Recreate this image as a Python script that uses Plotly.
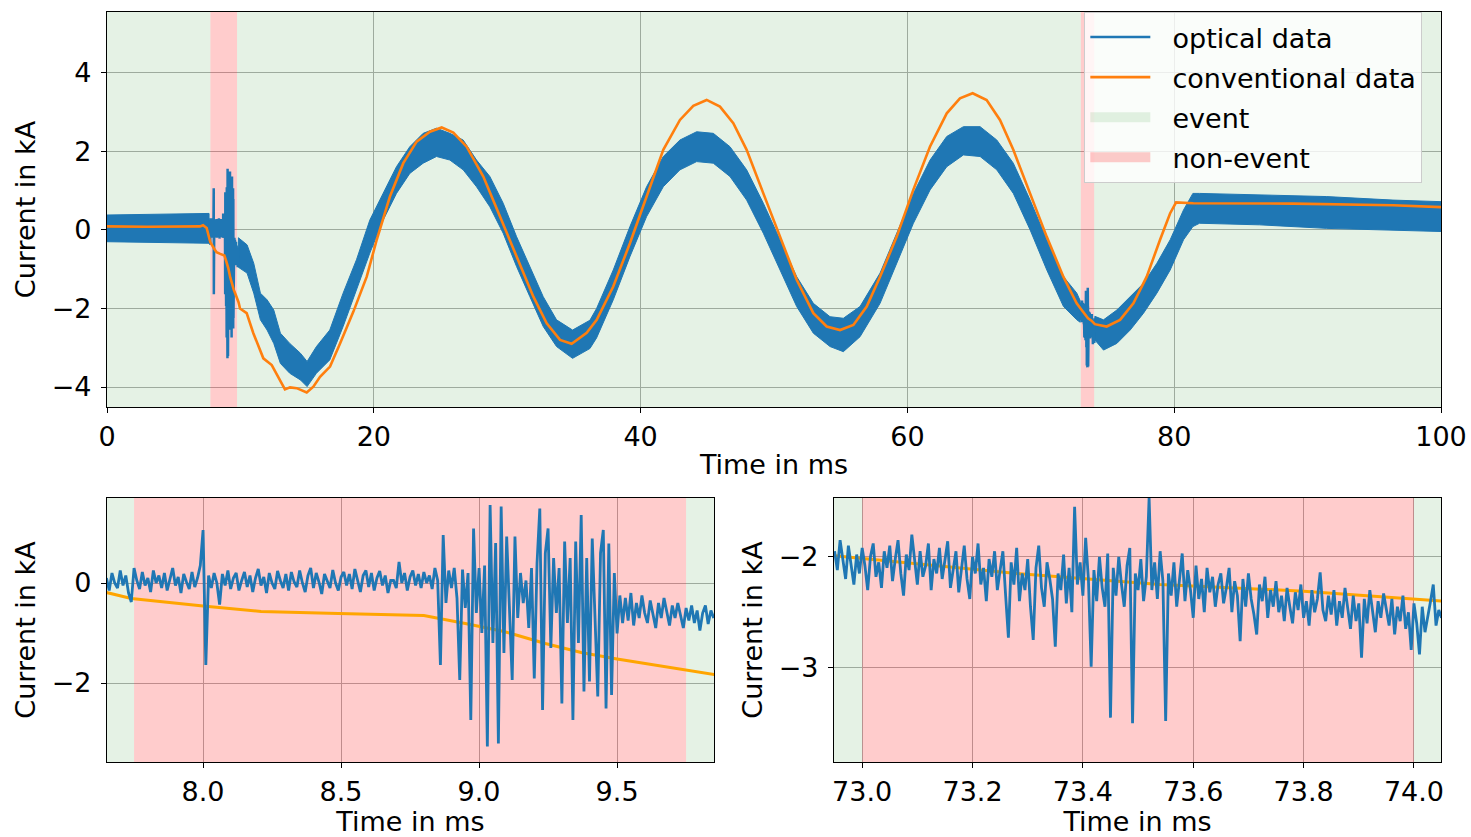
import numpy as np
import plotly.graph_objects as go

# ---------------- data ----------------
# conventional (reference) measurement, read from the chart
conv_t = [0, 3, 6.97, 7.2, 7.47, 7.65, 7.74, 8.0, 8.21, 8.49, 8.8, 8.95, 9.09, 9.24, 9.37, 9.5,
          9.65, 9.76, 9.86, 9.97, 10.47, 10.97, 11.72, 12.35, 12.97, 13.34, 13.72, 14.22, 14.97,
          15.47, 15.97, 16.72, 17.47, 18.47, 19.47, 20.22, 21.21, 22.21, 23.21, 24.21, 25.09,
          25.96, 26.96, 28.21, 29.46, 30.71, 31.96, 32.96, 33.96, 34.83, 35.96, 36.71, 37.95,
          39.2, 40.46, 41.7, 42.95, 43.95, 44.95, 45.95, 46.95, 47.95, 49.2, 50.45, 51.7, 52.95,
          53.95, 54.95, 55.95, 56.95, 57.95, 59.2, 60.44, 61.69, 62.95, 63.94, 64.89, 65.94,
          66.94, 67.94, 69.19, 70.44, 71.69, 72.69, 72.95, 73.28, 73.43, 73.54, 73.8, 74.05,
          74.94, 75.94, 76.94, 77.94, 78.94, 79.69, 80.14, 81.43, 88.9, 96.4, 100]
conv_v = [0.09, 0.08, 0.09, 0.12, 0.05, -0.19, -0.31, -0.46, -0.57, -0.61, -0.65, -0.81, -0.97,
          -1.21, -1.39, -1.52, -1.65, -1.74, -1.84, -2.0, -2.12, -2.63, -3.27, -3.44, -3.82, -4.06,
          -4.01, -4.03, -4.14, -3.99, -3.74, -3.48, -2.89, -2.08, -1.19, -0.25, 0.85, 1.70, 2.25,
          2.50, 2.61, 2.48, 2.12, 1.36, 0.34, -0.68, -1.70, -2.38, -2.80, -2.90, -2.62, -2.29,
          -1.44, -0.34, 0.85, 2.04, 2.80, 3.16, 3.31, 3.14, 2.72, 2.04, 0.93, -0.17, -1.27, -2.12,
          -2.46, -2.55, -2.42, -1.95, -1.19, -0.17, 1.02, 2.12, 2.97, 3.35, 3.48, 3.31, 2.80, 2.04,
          0.93, -0.17, -1.19, -1.87, -1.99, -2.15, -2.21, -2.25, -2.31, -2.40, -2.46, -2.29, -1.87,
          -1.19, -0.25, 0.42, 0.70, 0.68, 0.67, 0.63, 0.58]

# optical data, overview: upper / lower envelope of the noisy trace (outside the zoom windows)
band_a_t = [0.0, 3.5, 7.65]
band_a_hi = [0.38, 0.40, 0.42]
band_a_lo = [-0.30, -0.32, -0.34]

band_b_t = [9.85, 10.5, 11.0, 11.5, 12.0, 12.5, 13.0, 13.7, 14.5, 15.0, 15.7, 16.7, 17.7, 18.7,
            19.7, 20.7, 21.7, 22.7, 23.7, 24.7, 25.7, 26.7, 27.7, 28.7, 29.7, 30.7, 31.7, 32.7,
            33.7, 34.9, 36.2, 36.7, 37.95, 39.2, 40.45, 41.7, 42.95, 44.2, 45.45, 46.7, 47.95,
            49.2, 50.45, 51.7, 52.95, 54.2, 55.2, 56.45, 57.95, 59.2, 60.45, 61.7, 62.95, 64.2,
            65.45, 66.7, 67.94, 69.2, 70.45, 71.7, 72.7, 72.95]
band_b_hi = [-0.20, -0.38, -0.85, -1.61, -1.78, -2.04, -2.63, -2.89, -3.14, -3.35, -2.97, -2.55,
             -1.61, -0.76, 0.25, 0.93, 1.61, 2.12, 2.46, 2.59, 2.46, 2.29, 1.78, 1.36, 0.68, -0.17,
             -0.93, -1.70, -2.29, -2.55, -2.30, -2.00, -1.02, 0.085, 1.10, 1.87, 2.29, 2.50, 2.46,
             2.12, 1.53, 0.68, -0.25, -1.19, -1.87, -2.21, -2.25, -1.95, -1.10, -0.085, 0.93, 1.78,
             2.38, 2.63, 2.63, 2.29, 1.70, 0.76, -0.25, -1.19, -1.61, -1.80]
band_b_lo = [-0.95, -1.10, -1.61, -2.29, -2.55, -2.89, -3.40, -3.65, -3.82, -3.99, -3.65, -3.31,
             -2.46, -1.53, -0.59, 0.25, 0.93, 1.44, 1.70, 1.87, 1.78, 1.53, 1.10, 0.59, -0.085,
             -0.93, -1.70, -2.46, -2.97, -3.27, -3.02, -2.75, -1.78, -0.68, 0.34, 1.10, 1.53, 1.74,
             1.70, 1.36, 0.76, -0.085, -1.02, -1.95, -2.63, -2.97, -3.10, -2.72, -1.87, -0.85, 0.17,
             1.02, 1.61, 1.91, 1.87, 1.53, 0.93, 0.0, -1.02, -1.95, -2.29, -2.35]

band_c_t = [74.05, 74.7, 75.7, 76.7, 77.7, 78.7, 79.7, 80.7, 81.4, 81.9, 86.4, 91.4, 96.4, 100.0]
band_c_hi = [-2.20, -2.29, -2.04, -1.70, -1.36, -0.85, -0.25, 0.51, 0.93, 0.93, 0.89, 0.85, 0.76, 0.72]
band_c_lo = [-2.80, -3.06, -2.89, -2.55, -2.12, -1.61, -1.02, -0.25, 0.085, 0.17, 0.13, 0.04, 0.0, -0.04]

# optical data, detail window 1 (7.65 ... 9.85 ms, every 0.01 ms)
det1_start, det1_step = 7.65, 0.01
det1_v = [
    0.10, -0.15, 0.20, 0.00, -0.10, 0.25, -0.05, 0.15, -0.20, -0.38,
    0.30, 0.05, -0.12, 0.22, -0.05, 0.10, -0.18, 0.25, 0.00, 0.15,
    -0.10, 0.20, -0.15, 0.05, 0.30, -0.05, 0.12, -0.20, 0.18, 0.02,
    -0.12, 0.22, -0.08, 0.10, 0.35, 1.06, -1.64, 0.15, -0.10, 0.20,
    0.00, -0.43, 0.18, -0.05, 0.25, -0.12, 0.10, 0.20, -0.15, 0.05,
    0.22, -0.08, 0.15, -0.18, 0.10, 0.28, -0.05, 0.12, -0.20, 0.20,
    0.00, -0.12, 0.24, 0.05, -0.10, 0.18, -0.15, 0.22, 0.02, -0.08,
    0.25, 0.00, -0.18, 0.15, 0.30, -0.10, 0.20, 0.02, -0.22, 0.18,
    0.05, -0.10, 0.26, 0.00, -0.15, 0.12, 0.22, -0.05, 0.18, -0.12,
    0.28, 0.02, -0.18, 0.15, 0.25, -0.08, 0.20, -0.15, 0.10, 0.24,
    -0.05, 0.15, -0.20, 0.05, 0.05, -0.10, 0.42, 0.00, 0.20, -0.15,
    0.12, 0.25, -0.05, 0.18, -0.10, 0.22, 0.00, 0.15, -0.12, 0.30,
    0.05, -1.64, 0.96, -0.40, 0.25, -0.10, 0.30, -0.30, -1.94, 0.27,
    -0.50, 0.20, -2.74, 1.09, -0.60, 0.30, -1.00, 0.35, -3.27, 1.56,
    -1.20, 0.80, -3.21, 1.53, -1.40, 0.93, -0.50, -1.94, 0.93, -0.70,
    0.20, -0.40, 0.05, -0.90, 0.30, -1.91, 0.40, 1.49, -2.54, 0.60,
    1.09, -1.30, 0.50, -0.60, 0.30, -2.41, 0.83, -0.80, 0.50, -2.74,
    0.83, -1.20, 1.36, -2.17, 0.50, -1.97, 0.89, -0.90, -2.27, 0.60,
    1.06, -2.51, 0.79, -2.24, 0.20, -1.01, -0.25, -0.80, -0.30, -0.75,
    -0.20, -0.85, -0.40, -0.70, -0.25, -0.60, -0.80, -0.35, -0.65, -0.90,
    -0.40, -0.70, -0.30, -0.60, -0.85, -0.45, -0.70, -0.40, -0.62, -0.90,
    -0.50, -0.75, -0.45, -0.80, -0.55, -0.95, -0.60, -0.45, -0.82, -0.55,
    -0.70]

# optical data, detail window 2 (72.95 ... 74.05 ms, every 0.005 ms)
det2_start, det2_step = 72.95, 0.005
det2_v = [
    -1.95, -2.12, -1.85, -2.05, -2.20, -1.90, -2.10, -2.25, -1.98, -2.15, -1.92, -2.08, -2.30, -2.00, -1.88, -2.18, -2.05, -2.28, -1.95, -2.10,
    -1.90, -2.22, -2.02, -1.85, -2.15, -2.35, -1.98, -2.12, -1.80, -2.05, -2.25, -1.95, -2.18, -2.08, -1.88, -2.30, -2.02, -2.15, -1.92, -2.20,
    -2.05, -1.86, -2.28, -2.10, -1.95, -2.32, -2.08, -1.90, -2.20, -2.38, -2.00, -2.15, -1.88, -2.25, -2.10, -2.40, -2.02, -2.18, -1.95, -2.30,
    -2.12, -1.95, -2.35, -2.73, -2.05, -2.25, -1.92, -2.40, -2.15, -2.30, -2.02, -2.45, -2.75, -2.10, -1.90, -2.28, -2.45, -2.05, -2.20, -2.38,
    -2.81, -2.15, -2.30, -1.98, -2.42, -2.10, -2.50, -1.55, -2.25, -2.05, -2.35, -1.83, -2.20, -2.99, -2.12, -2.40, -2.00, -2.28, -2.45, -1.97,
    -3.45, -2.10, -2.35, -2.00, -2.25, -2.45, -2.08, -1.92, -3.50, -2.15, -2.30, -2.02, -2.40, -2.18, -1.47, -2.30, -2.05, -2.38, -1.95, -2.22,
    -3.48, -2.15, -2.35, -2.05, -2.45, -2.20, -1.97, -2.40, -2.12, -2.30, -2.55, -2.08, -2.38, -2.20, -2.50, -2.10, -2.32, -2.18, -2.45, -2.25,
    -2.15, -2.42, -2.28, -2.10, -2.50, -2.22, -2.35, -2.76, -2.20, -2.45, -2.15, -2.38, -2.52, -2.70, -2.25, -2.40, -2.18, -2.55, -2.30, -2.45,
    -2.22, -2.50, -2.35, -2.58, -2.28, -2.45, -2.60, -2.32, -2.48, -2.25, -2.55, -2.40, -2.62, -2.30, -2.50, -2.38, -2.14, -2.48, -2.58, -2.35,
    -2.52, -2.30, -2.62, -2.40, -2.55, -2.28, -2.48, -2.65, -2.35, -2.58, -2.42, -2.91, -2.38, -2.60, -2.30, -2.52, -2.68, -2.40, -2.55, -2.33,
    -2.48, -2.62, -2.38, -2.70, -2.45, -2.58, -2.35, -2.65, -2.50, -2.84, -2.42, -2.60, -2.88, -2.45, -2.68, -2.52, -2.40, -2.25, -2.62, -2.48,
    -2.55]

# event / non-event intervals (ms)
event_start = [0.0, 9.75, 74.0]
event_end = [7.75, 73.0, 100.0]
nonevent_start = [7.75, 73.0]
nonevent_end = [9.75, 74.0]

# legend labels
legend_names = ["optical data", "conventional data", "event", "non-event"]

# axis ranges and tick labels
top_xrange, top_yrange = [0, 100], [-4.51, 5.55]
bl_xrange, bl_yrange = [7.652, 9.851], [-3.58, 1.70]
br_xrange, br_yrange = [72.949, 74.049], [-3.85, -1.47]
top_xticks = [0, 20, 40, 60, 80, 100]
top_xticktext = ["0", "20", "40", "60", "80", "100"]
top_yticks = [-4, -2, 0, 2, 4]
top_yticktext = ["\u22124", "\u22122", "0", "2", "4"]
bl_xticks = [8.0, 8.5, 9.0, 9.5]
bl_xticktext = ["8.0", "8.5", "9.0", "9.5"]
bl_yticks = [-2, 0]
bl_yticktext = ["\u22122", "0"]
br_xticks = [73.0, 73.2, 73.4, 73.6, 73.8, 74.0]
br_xticktext = ["73.0", "73.2", "73.4", "73.6", "73.8", "74.0"]
br_yticks = [-3, -2]
br_yticktext = ["\u22123", "\u22122"]

# ---------------- styling ----------------
BLUE = "#1f77b4"
ORANGE_TOP = "#ff7f0e"
ORANGE_ZOOM = "#ffa500"
EVENT_FILL = "rgba(0,128,0,0.10)"
NONEVENT_FILL = "rgba(255,0,0,0.20)"
FONT = "DejaVu Sans"
FS = 27
SPAN_Y = (-100, 100)
PAD = "\u00a0\u00a0"   # gap between legend handle and label

det1_t = np.round(det1_start + det1_step * np.arange(len(det1_v)), 4)
det2_t = np.round(det2_start + det2_step * np.arange(len(det2_v)), 4)


def span_xy(starts, ends):
    xs, ys = [], []
    for s, e in zip(starts, ends):
        xs += [s, e, e, s, s, None]
        ys += [SPAN_Y[0], SPAN_Y[0], SPAN_Y[1], SPAN_Y[1], SPAN_Y[0], None]
    return xs, ys


def band_xy(segments):
    xs, ys = [], []
    for t, hi, lo in segments:
        xs += list(t) + list(t[::-1]) + [t[0], None]
        ys += list(hi) + list(lo[::-1]) + [hi[0], None]
    return xs, ys


fig = go.Figure()
panels = [("x", "y"), ("x2", "y2"), ("x3", "y3")]
ev_x, ev_y = span_xy(event_start, event_end)
ne_x, ne_y = span_xy(nonevent_start, nonevent_end)

for xa, ya in panels:
    fig.add_trace(go.Scatter(x=ev_x, y=ev_y, xaxis=xa, yaxis=ya, mode="lines", fill="toself",
                             fillcolor=EVENT_FILL, line=dict(width=0, color=EVENT_FILL),
                             showlegend=False, hoverinfo="skip"))
    fig.add_trace(go.Scatter(x=ne_x, y=ne_y, xaxis=xa, yaxis=ya, mode="lines", fill="toself",
                             fillcolor=NONEVENT_FILL, line=dict(width=0, color=NONEVENT_FILL),
                             showlegend=False, hoverinfo="skip"))

# legend entries for the two span kinds (patch-like wide strokes)
fig.add_trace(go.Scatter(x=[None], y=[None], mode="lines", name=PAD + legend_names[2],
                         line=dict(width=10, color=EVENT_FILL), legendrank=3, legendgroup="ev"))
fig.add_trace(go.Scatter(x=[None], y=[None], mode="lines", name=PAD + legend_names[3],
                         line=dict(width=10, color=NONEVENT_FILL), legendrank=4, legendgroup="ne"))

# top panel: optical overview band + detail segments, then conventional on top
bx, by = band_xy([(band_a_t, band_a_hi, band_a_lo),
                  (band_b_t, band_b_hi, band_b_lo),
                  (band_c_t, band_c_hi, band_c_lo)])
fig.add_trace(go.Scatter(x=bx, y=by, xaxis="x", yaxis="y", mode="lines", fill="toself",
                         fillcolor=BLUE, line=dict(width=1, color=BLUE), showlegend=False,
                         hoverinfo="skip"))
fig.add_trace(go.Scatter(x=det1_t, y=det1_v, xaxis="x", yaxis="y", mode="lines",
                         line=dict(width=2.5, color=BLUE), name=PAD + legend_names[0],
                         showlegend=True, legendrank=1, legendgroup="opt"))
fig.add_trace(go.Scatter(x=det2_t, y=det2_v, xaxis="x", yaxis="y", mode="lines",
                         line=dict(width=2.5, color=BLUE), showlegend=False))
fig.add_trace(go.Scatter(x=conv_t, y=conv_v, xaxis="x", yaxis="y", mode="lines",
                         line=dict(width=2.6, color=ORANGE_TOP), name=PAD + legend_names[1],
                         showlegend=True, legendrank=2, legendgroup="conv"))

# zoom panels: conventional below optical
for (xa, ya), t, v in [(panels[1], det1_t, det1_v), (panels[2], det2_t, det2_v)]:
    fig.add_trace(go.Scatter(x=conv_t, y=conv_v, xaxis=xa, yaxis=ya, mode="lines",
                             line=dict(width=3, color=ORANGE_ZOOM), showlegend=False))
    fig.add_trace(go.Scatter(x=t, y=v, xaxis=xa, yaxis=ya, mode="lines",
                             line=dict(width=2.8, color=BLUE), showlegend=False))

axis_common = dict(showline=True, linecolor="black", linewidth=1.3, mirror=True,
                   ticks="outside", ticklen=5, tickwidth=1.3, tickcolor="black",
                   showgrid=True, gridcolor="#b0b0b0", gridwidth=1.3, zeroline=False,
                   automargin=False,
                   tickfont=dict(family=FONT, size=FS, color="black"), tickmode="array")


def xaxis(rng, dom, anchor, vals, text):
    return dict(axis_common, range=rng, domain=dom, anchor=anchor, tickvals=vals, ticktext=text,
                title=dict(text="Time in ms", font=dict(family=FONT, size=FS, color="black"),
                           standoff=4))


def yaxis(rng, dom, anchor, vals, text):
    return dict(axis_common, range=rng, domain=dom, anchor=anchor, tickvals=vals, ticktext=text,
                ticklabelstandoff=4,
                title=dict(text="Current in kA", font=dict(family=FONT, size=FS, color="black"),
                           standoff=8))


fig.update_layout(
    width=1471, height=837,
    margin=dict(l=107, r=30, t=12, b=75, autoexpand=False),
    paper_bgcolor="white", plot_bgcolor="white",
    font=dict(family=FONT, size=FS, color="black"),
    xaxis=xaxis(top_xrange, [0, 1], "y", top_xticks, top_xticktext),
    yaxis=yaxis(top_yrange, [0.4733, 1], "x", top_yticks, top_yticktext),
    xaxis2=xaxis(bl_xrange, [0, 0.455], "y2", bl_xticks, bl_xticktext),
    yaxis2=yaxis(bl_yrange, [0, 0.352], "x2", bl_yticks, bl_yticktext),
    xaxis3=xaxis(br_xrange, [0.545, 1], "y3", br_xticks, br_xticktext),
    yaxis3=yaxis(br_yrange, [0, 0.352], "x3", br_yticks, br_yticktext),
    legend=dict(x=0.986, y=1.0, xanchor="right", yanchor="top",
                bgcolor="rgba(255,255,255,0.8)", bordercolor="#cccccc", borderwidth=1,
                font=dict(family=FONT, size=FS, color="black"), itemwidth=60,
                traceorder="grouped", tracegroupgap=2),
    showlegend=True,
)

# remove the default 8px page margin so the figure sits at the window's top-left corner
fig.write_html("out.html",
               config={"displayModeBar": False},
               post_script="document.body.style.margin='0';"
                           "document.documentElement.style.overflow='hidden';")
